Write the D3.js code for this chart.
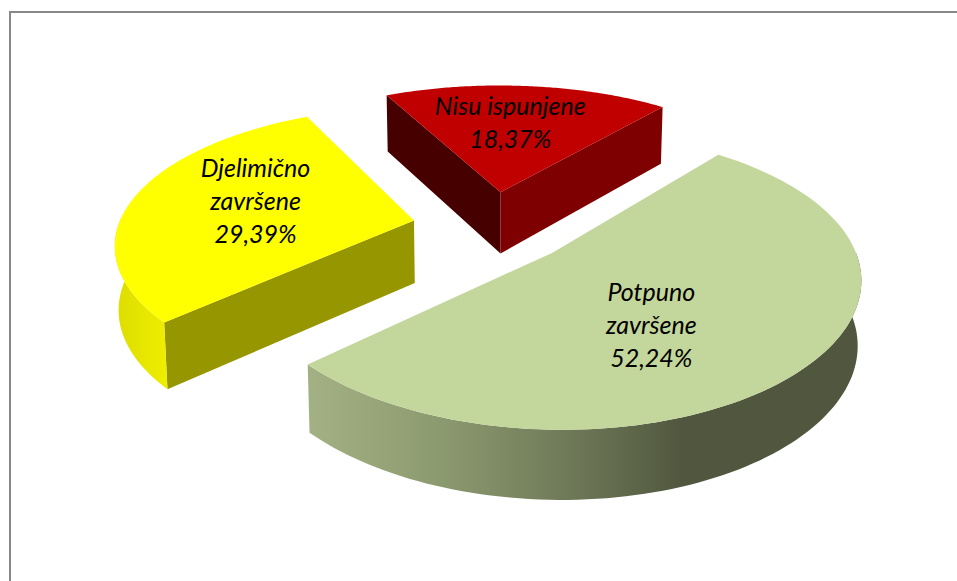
<!DOCTYPE html>
<html>
<head>
<meta charset="utf-8">
<script src="https://cdn.jsdelivr.net/npm/d3@7"></script>
<style>
  html, body { margin: 0; padding: 0; background: #fff; }
  svg { display: block; }
</style>
</head>
<body>
<div id="chart"></div>
<script>
// 3D pie with exploded slices, clockwise from the first slice angle
const categories = ["Potpuno završene", "Djelimično završene", "Nisu ispunjene"];
const labelLines = [["Potpuno", "završene", "52,24%"], ["Djelimično", "završene", "29,39%"], ["Nisu ispunjene", "18,37%"]];
const values     = [52.24, 29.39, 18.37];
const topColors  = ["#c3d69b", "#ffff00", "#c00000"];
const startWall  = [null, "#969600", "#470000"];
const endWall    = [null, null, "#7f0000"];
const labelNudge = [[-33, 14], [-3, -5], [-6, -6.5]];

const W = 957, H = 581;
const deg = Math.PI / 180;
const first = 39.5 * deg;

// projection params
const cx = 492, cy = 227, rx = 296, ry = 136;
const perspX = 0.15, perspY = 0.1726, explode = 0.27;

const pie = d3.pie().sort(null).value(d => d)
  .startAngle(first).endAngle(first + 2 * Math.PI);
const arcs = pie(values);

const svg = d3.select("#chart").append("svg").attr("width", W).attr("height", H);
svg.append("rect").attr("width", W).attr("height", H).attr("fill", "#fff");

// frame, only top and left fall inside the picture
svg.append("path")
  .attr("d", `M10,${H}V12H${W}`)
  .attr("fill", "none").attr("stroke", "#888").attr("stroke-width", 2);

const defs = svg.append("defs");
function gradient(id, x1, x2, stops){
  const g = defs.append("linearGradient").attr("id", id)
    .attr("gradientUnits", "userSpaceOnUse")
    .attr("x1", x1).attr("x2", x2).attr("y1", 0).attr("y2", 0);
  stops.forEach(s => g.append("stop").attr("offset", s[0]).attr("stop-color", s[1]));
}
gradient("rimGreen", 300, 862, [[0, "#a5b285"], [0.25, "#8c9a6f"], [0.5, "#6c7656"], [0.68, "#50573e"], [1, "#50573e"]]);
gradient("rimYellow", 113, 172, [[0, "#dcdc00"], [1, "#f0f000"]]);
const rimFill = ["url(#rimGreen)", "url(#rimYellow)", "#7f0000"];

// ground point -> screen point, z = 1 gives the lower face of the slab
function project(a, r, mid, z){
  const X = r * Math.sin(a) + explode * Math.sin(mid);
  const Y = r * Math.cos(a) + explode * Math.cos(mid);
  let x = cx + rx * X / (1 + perspX * Y);
  let y = cy - ry * Y / (1 + perspY * Y);
  if (z) {
    x = cx + (x - cx) * 0.99;
    y = y + 63 - 6 * Y;
  }
  return [x, y];
}

const line = d3.line();

function rimAngles(d){
  const n = 120;
  return d3.range(n + 1).map(i => d.startAngle + (d.endAngle - d.startAngle) * i / n);
}

// back slices first
[2, 1, 0].forEach(i => {
  const d = arcs[i];
  const mid = (d.startAngle + d.endAngle) / 2;
  const g = svg.append("g");
  const angles = rimAngles(d);
  const top = angles.map(a => project(a, 1, mid, 0));
  const apexT = project(0, 0, mid, 0), apexB = project(0, 0, mid, 1);
  const wall = (a, color) => {
    if (!color) return;
    g.append("path")
      .attr("d", line([apexT, project(a, 1, mid, 0), project(a, 1, mid, 1), apexB]) + "Z")
      .attr("fill", color);
  };
  wall(d.startAngle, startWall[i]);
  wall(d.endAngle, endWall[i]);

  // only the part of the rim that faces the viewer
  const front = angles.filter(a => Math.cos(a) < 0.02);
  if (front.length) {
    const a = front.map(t => project(t, 1, mid, 0));
    const b = front.map(t => project(t, 1, mid, 1)).reverse();
    g.append("path").attr("d", line(a.concat(b)) + "Z").attr("fill", rimFill[i]);
  }
  g.append("path").attr("d", line([apexT].concat(top)) + "Z").attr("fill", topColors[i]);
});

// labels
arcs.forEach((d, i) => {
  const mid = (d.startAngle + d.endAngle) / 2;
  const p = project(mid, 0.55, mid, 0);
  const lines = labelLines[i];
  const lh = 33;
  const t = svg.append("text")
    .attr("text-anchor", "middle")
    .attr("font-family", "Lato, 'Open Sans', sans-serif")
    .attr("font-style", "italic")
    .attr("font-size", 25)
    .attr("fill", "#000");
  lines.forEach((s, k) => {
    t.append("tspan")
      .attr("x", p[0] + labelNudge[i][0])
      .attr("y", p[1] + labelNudge[i][1] + (k - (lines.length - 1) / 2) * lh + 8)
      .text(s);
  });
});
</script>
</body>
</html>
